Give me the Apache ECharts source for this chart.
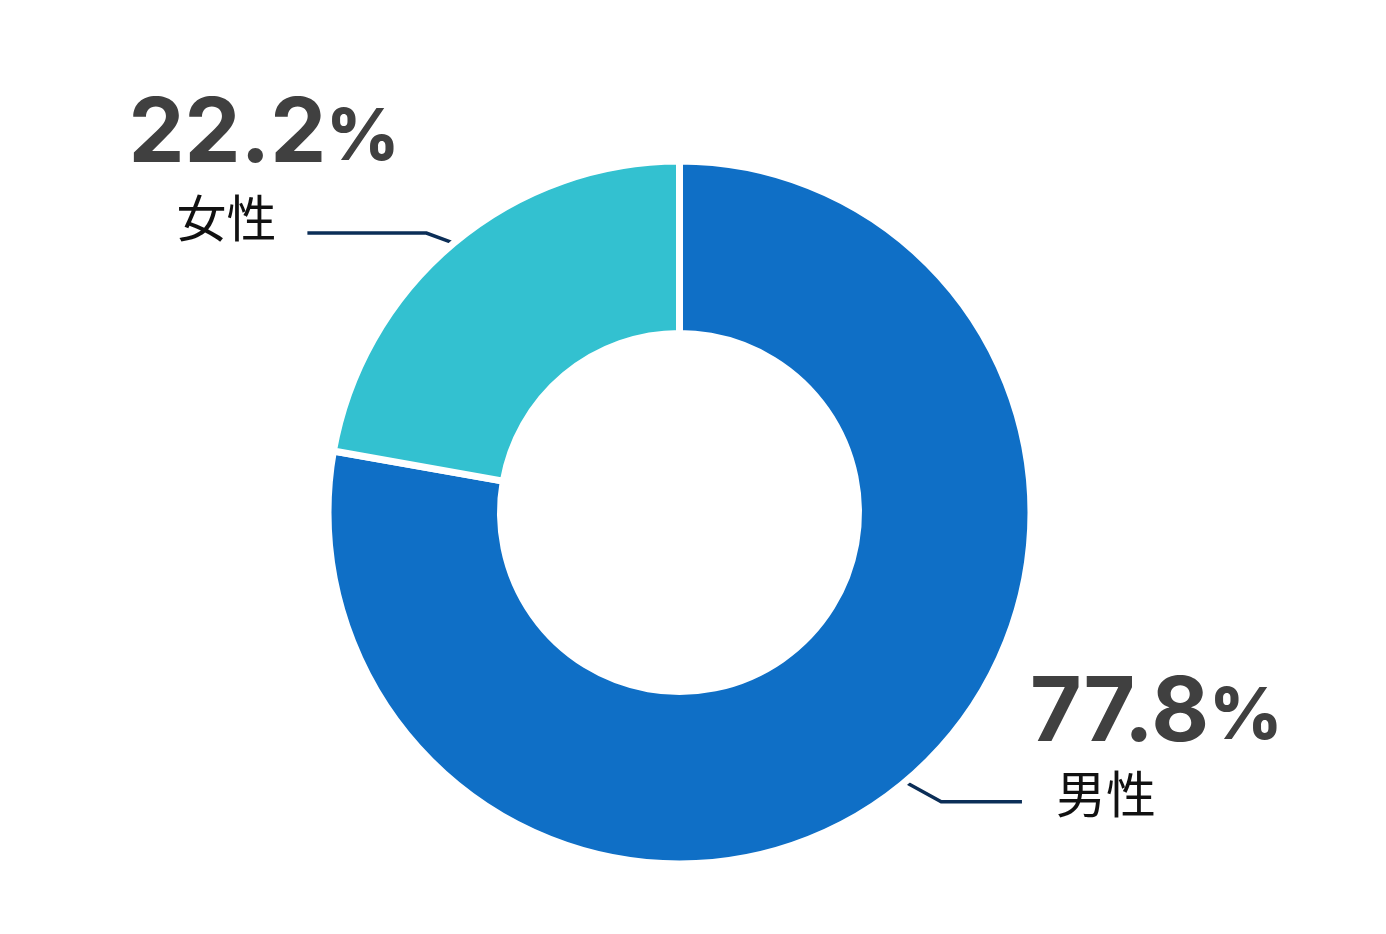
<!DOCTYPE html>
<html>
<head>
<meta charset="utf-8">
<script src="https://cdn.jsdelivr.net/npm/echarts@6/dist/echarts.min.js"></script>
<style>
html,body{margin:0;padding:0;background:#ffffff;}
#chart{width:1386px;height:934px;}
</style>
</head>
<body>
<div id="chart"></div>
<script>
// ---- data ----
const categories = ['男性', '女性'];
const values = [77.8, 22.2];
const colors = ['#0F6FC6', '#33C1D0'];

// ---- styles ----
const numColor = '#404040';
const lineColor = '#0B2E57';

function richFor(nameAlign, namePadding) {
  return {
    v: { fontFamily: 'Inter', fontWeight: 'bold', fontSize: 89, color: numColor, lineHeight: 80 },
    p: { fontFamily: 'Inter', fontWeight: 800, fontSize: 71, color: numColor, lineHeight: 80, padding: [7, 0, 0, 0] },
    n: { fontFamily: 'Noto Sans CJK JP', fontSize: 50, color: '#111111', lineHeight: 92, align: nameAlign, padding: namePadding }
  };
}

const itemCfg = [
  { // right side (男性)
    labelLine: { length: 26, length2: 100, minTurnAngle: 151 },
    label: { distanceToLabelLine: 8, padding: [0, 0, 83, 0], rich: richFor('left', [0, 0, 12, 26]) }
  },
  { // left side (女性)
    labelLine: { length: 13, length2: 138, minTurnAngle: 160 },
    label: { distanceToLabelLine: -92, padding: [0, 0, 104, 0], rich: richFor('right', [0, 123, 6, 0]) }
  }
];

const chart = echarts.init(document.getElementById('chart'), null, { renderer: 'canvas' });
chart.setOption({
  animation: false,
  backgroundColor: '#ffffff',
  series: [{
    type: 'pie',
    center: [679.5, 512.5],
    radius: [179, 351.5],
    startAngle: 90,
    clockwise: true,
    avoidLabelOverlap: true,
    itemStyle: { borderColor: '#ffffff', borderWidth: 7 },
    emphasis: { disabled: true },
    label: {
      show: true,
      position: 'outside',
      overflow: 'none',
      formatter: function (p) { return '{v|' + p.value + '}{p|%}\n{n|' + p.name + '}'; }
    },
    labelLine: { show: true, lineStyle: { color: lineColor, width: 3.5 } },
    data: categories.map(function (name, i) {
      return {
        name: name,
        value: values[i],
        itemStyle: { color: colors[i] },
        label: itemCfg[i].label,
        labelLine: itemCfg[i].labelLine
      };
    })
  }]
});
</script>
</body>
</html>
